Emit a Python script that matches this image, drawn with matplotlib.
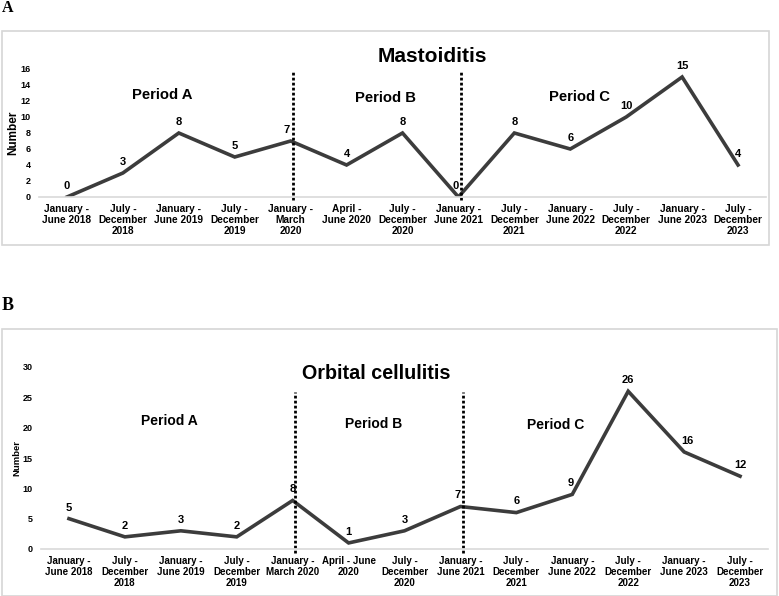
import matplotlib.pyplot as plt
from matplotlib.patches import Rectangle

plt.rcParams['font.family'] = ['Liberation Sans', 'DejaVu Sans']

# categorias (semestres)
periodos_a = ['January -\nJune 2018', 'July -\nDecember\n2018', 'January -\nJune 2019',
              'July -\nDecember\n2019', 'January -\nMarch\n2020', 'April -\nJune 2020',
              'July -\nDecember\n2020', 'January -\nJune 2021', 'July -\nDecember\n2021',
              'January -\nJune 2022', 'July -\nDecember\n2022', 'January -\nJune 2023',
              'July -\nDecember\n2023']
periodos_b = ['January -\nJune 2018', 'July -\nDecember\n2018', 'January -\nJune 2019',
              'July -\nDecember\n2019', 'January -\nMarch 2020', 'April - June\n2020',
              'July -\nDecember\n2020', 'January -\nJune 2021', 'July -\nDecember\n2021',
              'January -\nJune 2022', 'July -\nDecember\n2022', 'January -\nJune 2023',
              'July -\nDecember\n2023']

mastoidite = [0, 3, 8, 5, 7, 4, 8, 0, 8, 6, 10, 15, 4]
celulite_orbital = [5, 2, 3, 2, 8, 1, 3, 7, 6, 9, 26, 16, 12]

# limites dos periodos (indice da categoria)
divisoes = [4.04, 7.05]

W, H = 779, 596
fig = plt.figure(figsize=(W / 100, H / 100), dpi=100)

# molduras
for (x0, y0, x1, y1) in [(2, 31, 769, 245), (2, 329, 777, 596)]:
    fig.patches.append(Rectangle((x0 / W, 1 - y1 / H), (x1 - x0) / W, (y1 - y0) / H,
                                 transform=fig.transFigure, fill=False,
                                 edgecolor='#d6d6d6', linewidth=1.2))

fig.text(8 / W, 1 - 8 / H, 'A', family='Liberation Serif', fontweight='bold',
         fontsize=11.5, ha='center', va='center')
fig.text(8 / W, 1 - 306 / H, 'B', family='Liberation Serif', fontweight='bold',
         fontsize=13, ha='center', va='center')


def desenha(ax, labels, valores, ymax, ystep, titulo, pos_titulo, tam_titulo,
            pos_periodos, tam_periodo, tam_tick, tam_ylabel, div_top, offsets):
    x = list(range(len(valores)))
    ax.plot(x, valores, color='#3c3c3c', linewidth=2.6, solid_joinstyle='miter')
    for i, v in enumerate(valores):
        dx, dy = offsets.get(i, (0, 8))
        ax.annotate(str(v), (i, v), xytext=(dx, dy), textcoords='offset points',
                    ha='center', va='center', fontsize=8, fontweight='bold',
                    annotation_clip=False)
    for d in divisoes:
        ax.plot([d, d], [-ymax * 0.02, div_top], color='black', linewidth=2,
                linestyle=(0, (1, 0.8)), clip_on=False)
    ax.set_xlim(-0.5, len(valores) - 0.5)
    ax.set_ylim(0, ymax)
    ax.set_yticks(range(0, ymax + 1, ystep))
    ax.set_xticks(x)
    ax.set_xticklabels(labels, fontsize=tam_tick, fontweight='bold', linespacing=1.15)
    for t in ax.get_yticklabels():
        t.set_fontweight('bold')
        t.set_fontsize(6.5)
    ax.tick_params(axis='both', length=0)
    ax.tick_params(axis='y', pad=6)
    ax.tick_params(axis='x', pad=5)
    for s in ['top', 'right', 'left']:
        ax.spines[s].set_visible(False)
    ax.spines['bottom'].set_color('#d9d9d9')
    ax.spines['bottom'].set_linewidth(1.2)
    ax.set_ylabel('Number', fontsize=tam_ylabel, fontweight='bold', labelpad=1)
    ax.text(pos_titulo[0], pos_titulo[1], titulo, transform=ax.transAxes,
            ha='center', va='center', fontsize=tam_titulo, fontweight='bold')
    for nome, (px, py) in zip(['Period A', 'Period B', 'Period C'], pos_periodos):
        ax.text(px, py, nome, transform=ax.transAxes, ha='center', va='center',
                fontsize=tam_periodo, fontweight='bold')


ax1 = fig.add_axes([39 / W, 1 - 197 / H, 727 / W, 128 / H])
desenha(ax1, periodos_a, mastoidite, 16, 2, 'Mastoiditis', (0.541, 1.094), 15,
        [(0.169, 0.797), (0.476, 0.773), (0.744, 0.781)], 10.7, 7.3, 8.5, 15.6,
        {4: (-3, 8), 7: (-2, 8)})

ax2 = fig.add_axes([41 / W, 1 - 549 / H, 727 / W, 182 / H])
desenha(ax2, periodos_b, celulite_orbital, 30, 5, 'Orbital cellulitis', (0.461, 0.967), 14.2,
        [(0.177, 0.703), (0.458, 0.687), (0.708, 0.681)], 10, 7, 6.8, 25.9,
        {4: (0, 8), 7: (-2, 8), 9: (-1, 8), 12: (0, 8), 11: (2, 8)})

fig.savefig('out.png', dpi=100)
